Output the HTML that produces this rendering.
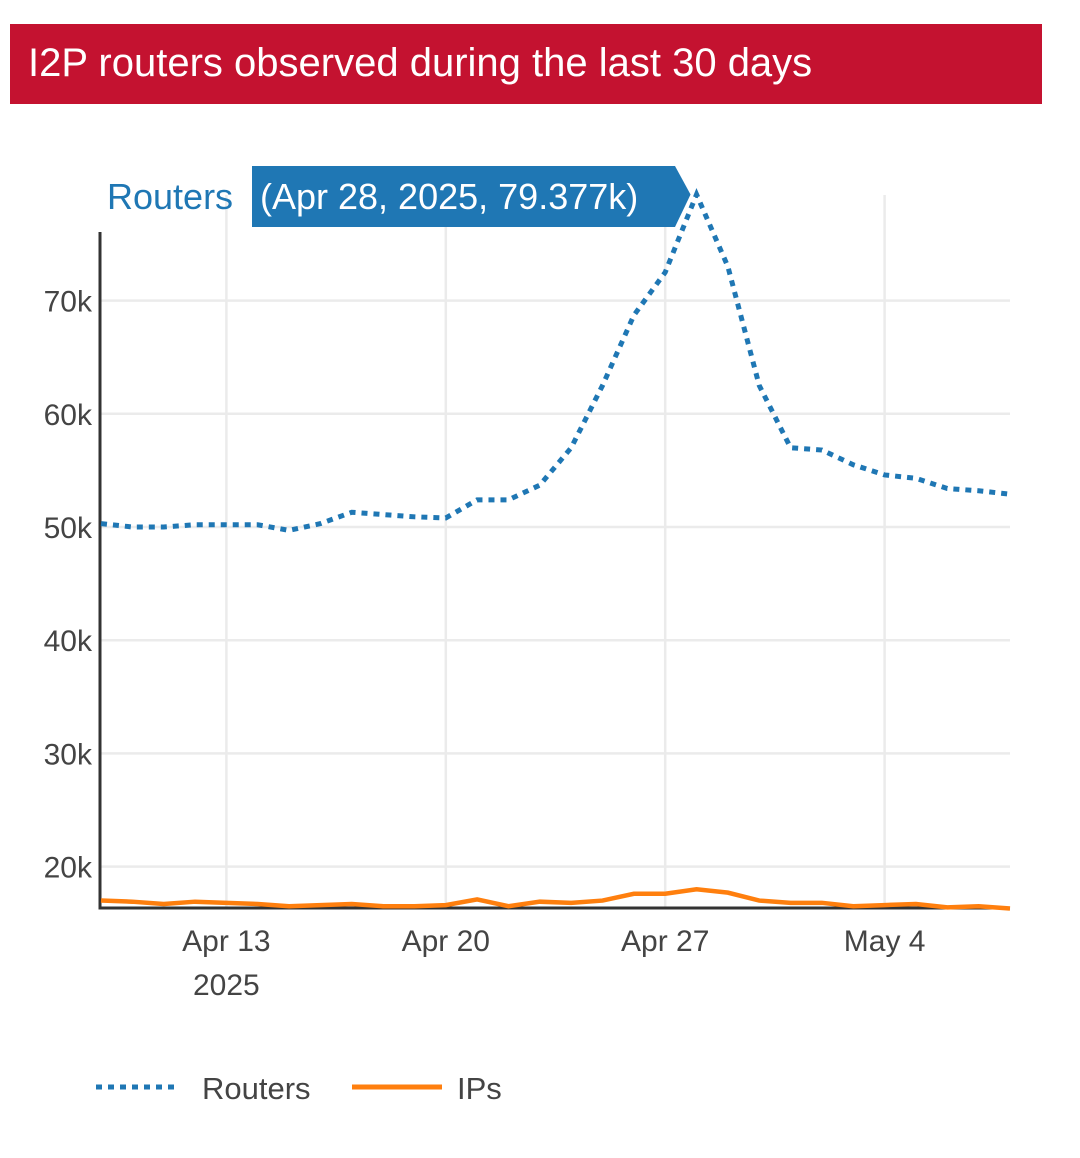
<!DOCTYPE html>
<html><head><meta charset="utf-8"><style>
body{margin:0;width:1080px;height:1158px;background:#fff;font-family:"Liberation Sans",sans-serif;overflow:hidden}
#title{position:absolute;left:10px;top:24px;width:1032px;height:80px;background:#c41230;color:#fff;font-size:40px;line-height:78px;box-sizing:border-box;padding-left:18px}
svg{position:absolute;left:0;top:0}
</style></head><body>
<div id="title">I2P routers observed during the last 30 days</div>
<svg id="chart" width="1080" height="1158"></svg>
<script>
const days=["Apr 9","Apr 10","Apr 11","Apr 12","Apr 13","Apr 14","Apr 15","Apr 16","Apr 17","Apr 18","Apr 19","Apr 20","Apr 21","Apr 22","Apr 23","Apr 24","Apr 25","Apr 26","Apr 27","Apr 28","Apr 29","Apr 30","May 1","May 2","May 3","May 4","May 5","May 6","May 7","May 8"];
const routers=[50.3,50.0,50.0,50.2,50.2,50.2,49.7,50.3,51.3,51.1,50.9,50.8,52.4,52.4,53.7,57.0,62.5,68.7,72.5,79.377,73.0,62.5,57.0,56.8,55.5,54.6,54.3,53.4,53.2,52.9];
const ips=[17.0,16.9,16.7,16.9,16.8,16.7,16.5,16.6,16.7,16.5,16.5,16.6,17.1,16.5,16.9,16.8,17.0,17.6,17.6,18.0,17.7,17.0,16.8,16.8,16.5,16.6,16.7,16.4,16.5,16.3];
const yTicks=[20,30,40,50,60,70];
const xTicks=[{i:4,l:["Apr 13","2025"]},{i:11,l:["Apr 20"]},{i:18,l:["Apr 27"]},{i:25,l:["May 4"]}];
const NS="http://www.w3.org/2000/svg",svg=document.getElementById('chart');
const X=i=>101+i*(1010-101)/29;
const Y=v=>527-(v-50)*11.32;
function mk(t,a,p){const e=document.createElementNS(NS,t);for(const k in a)e.setAttribute(k,a[k]);(p||svg).appendChild(e);return e;}
yTicks.forEach(v=>{
 const g=mk('line',{x1:100,x2:1010,y1:Y(v),y2:Y(v),stroke:'#ebebeb','stroke-width':2.5});
 
 
 const t=mk('text',{x:92,y:Y(v)+11,'text-anchor':'end','font-size':30,fill:'#444'});t.textContent=v+'k';
 
 
});
xTicks.forEach(o=>{
 const g=mk('line',{x1:X(o.i),x2:X(o.i),y1:195,y2:908,stroke:'#ebebeb','stroke-width':2.5});
 
 
 o.l.forEach((s,k)=>{const t=mk('text',{x:X(o.i),y:951+k*44,'text-anchor':'middle','font-size':30,fill:'#444'});t.textContent=s;
 
 });
});
const ax=mk('path',{d:'M100 232 V908 H1010',fill:'none',stroke:'#333','stroke-width':3});


const ip=mk('polyline',{points:ips.map((v,i)=>X(i)+','+Y(v)).join(' '),fill:'none',stroke:'#ff7f0e','stroke-width':4.5});


const rl=mk('polyline',{points:routers.map((v,i)=>X(i)+','+Y(v)).join(' '),fill:'none',stroke:'#1f77b4','stroke-width':5,'stroke-dasharray':'6 6'});


const pk=routers.indexOf(Math.max(...routers)),px=X(pk),py=Y(routers[pk]);
const tb=mk('path',{d:`M252 166 H675 L${px-6} ${py} L675 227 H252 Z`,fill:'#1f77b4'});


const tt=mk('text',{x:260,y:209,'font-size':36,fill:'#fff'});tt.textContent='('+days[pk]+', 2025, '+routers[pk].toFixed(3)+'k)';


const tn=mk('text',{x:107,y:209,'font-size':36,fill:'#1f77b4'});tn.textContent='Routers';


const l1=mk('line',{x1:96,x2:180,y1:1087,y2:1087,stroke:'#1f77b4','stroke-width':5,'stroke-dasharray':'6 6'});


const t1=mk('text',{x:202,y:1099,'font-size':31,fill:'#444'});t1.textContent='Routers';


const l2=mk('line',{x1:352,x2:442,y1:1087,y2:1087,stroke:'#ff7f0e','stroke-width':5});


const t2=mk('text',{x:457,y:1099,'font-size':31,fill:'#444'});t2.textContent='IPs';


</script>
</body></html>
